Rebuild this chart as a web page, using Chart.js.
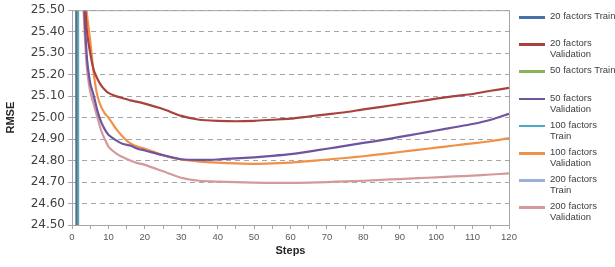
<!DOCTYPE html>
<html>
<head>
<meta charset="UTF-8">
<script src="https://cdn.jsdelivr.net/npm/chart.js"></script>
<style>
  body { margin: 0; background: #fff; font-family: 'Liberation Sans', Arial, sans-serif; }
  #wrap { position: relative; width: 615px; height: 267px; }
  #box { position: absolute; left: 0; top: 0; width: 520px; height: 267px; }
  #legend { position: absolute; left: 519px; top: 0; width: 96px; }
  .item { position: absolute; left: 0; height: 24px; }
  .item i { position: absolute; left: 0; width: 26px; height: 2.5px; }
  .item span { position: absolute; left: 31px; top: -6px; font-size: 9.5px; line-height: 11px; color: #404040; white-space: pre; }
</style>
</head>
<body>
<div id="wrap">
  <div id="box"><canvas id="chart"></canvas></div>
  <div id="legend"></div>
</div>
<script>
// x values (training steps)
const steps = [1,2,3,4,5,6,7,8,9,10,12,14,16,18,20,25,30,35,40,45,50,55,60,65,70,75,80,85,90,95,100,105,110,115,120];

const labels = ['20 factors Train', '20 factors\nValidation', '50 factors Train', '50 factors\nValidation',
  '100 factors\nTrain', '100 factors\nValidation', '200 factors\nTrain', '200 factors\nValidation'];
const colors = ['#4A6FA8', '#A8423F', '#8DB153', '#6E55A0', '#4AAAC5', '#F0914A', '#9DB0DC', '#D4999A'];

// train curves drop far below the visible range right after step 1
const train20  = [28.75,10.0,9.6,9.3,9.1,8.9,8.8,8.7,8.6,8.5,8.4,8.3,8.2,8.1,8.0,7.8,7.6,7.5,7.4,7.3,7.2,7.1,7.0,6.9,6.8,6.7,6.6,6.5,6.4,6.3,6.2,6.1,6.0,5.9,5.8];
const train50  = [35.0,10.0,9.5,9.1,8.8,8.6,8.4,8.2,8.1,8.0,7.8,7.6,7.5,7.4,7.3,7.0,6.8,6.6,6.4,6.2,6.0,5.9,5.7,5.6,5.4,5.3,5.1,5.0,4.8,4.7,4.5,4.4,4.2,4.1,4.0];
const train100 = [47.5,10.0,9.4,8.9,8.5,8.2,7.9,7.7,7.5,7.3,7.0,6.7,6.5,6.3,6.1,5.7,5.3,5.0,4.7,4.4,4.1,3.9,3.6,3.4,3.2,3.0,2.8,2.6,2.4,2.2,2.0,1.9,1.8,1.7,1.6];
const train200 = [60.0,10.0,9.3,8.7,8.2,7.8,7.4,7.1,6.8,6.5,6.0,5.6,5.2,4.9,4.6,3.9,3.3,2.8,2.3,1.9,1.5,1.3,1.1,1.0,0.9,0.8,0.7,0.6,0.55,0.5,0.45,0.4,0.35,0.3,0.25];

const val20  = [29.0,27.5,25.80,25.42,25.30,25.22,25.18,25.15,25.13,25.115,25.10,25.09,25.08,25.073,25.065,25.04,25.008,24.99,24.985,24.983,24.985,24.99,24.995,25.005,25.015,25.025,25.038,25.05,25.063,25.075,25.088,25.10,25.11,25.125,25.138];
const val50  = [28.5,27.0,25.70,25.30,25.16,25.10,25.03,24.98,24.945,24.92,24.895,24.877,24.87,24.855,24.847,24.825,24.806,24.803,24.805,24.81,24.815,24.822,24.83,24.842,24.855,24.868,24.882,24.895,24.91,24.925,24.94,24.955,24.97,24.99,25.018];
const val100 = [29.0,27.6,25.90,25.50,25.36,25.20,25.10,25.05,25.02,25.00,24.95,24.91,24.88,24.865,24.855,24.825,24.805,24.795,24.79,24.787,24.785,24.787,24.79,24.797,24.805,24.812,24.82,24.83,24.84,24.85,24.86,24.87,24.88,24.89,24.905];
const val200 = [28.3,26.8,25.60,25.25,25.12,25.06,25.00,24.94,24.90,24.865,24.835,24.815,24.80,24.788,24.78,24.75,24.72,24.706,24.702,24.70,24.697,24.696,24.696,24.697,24.70,24.703,24.706,24.71,24.714,24.718,24.722,24.726,24.73,24.735,24.74];

const series = [train20, val20, train50, val50, train100, val100, train200, val200];

const yMin = 24.5, yMax = 25.5, yStep = 0.1;
const xMin = 0, xMax = 120, xStep = 5;

const datasets = series.map((vals, i) => ({
  label: labels[i],
  data: vals.map((v, k) => ({ x: steps[k], y: v })),
  borderColor: colors[i],
  backgroundColor: colors[i],
  borderWidth: 2.2,
  pointRadius: 0,
  tension: i % 2 === 0 ? 0 : 0.2,
  fill: false
}));

// solid frame on top and right like the original plot area
const framePlugin = {
  id: 'frame',
  afterDraw(chart) {
    const { ctx, chartArea: a } = chart;
    ctx.save();
    ctx.strokeStyle = '#a6a6a6';
    ctx.lineWidth = 1;
    ctx.beginPath();
    ctx.moveTo(a.left, a.top + 0.5);
    ctx.lineTo(a.right + 0.5, a.top + 0.5);
    ctx.lineTo(a.right + 0.5, a.bottom);
    ctx.stroke();
    ctx.restore();
  }
};

new Chart(document.getElementById('chart'), {
  type: 'line',
  data: { datasets },
  plugins: [framePlugin],
  options: {
    responsive: true,
    maintainAspectRatio: false,
    animation: false,
    layout: { padding: { top: 5, right: 11, left: 0, bottom: 9 } },
    plugins: { legend: { display: false }, tooltip: { enabled: false } },
    scales: {
      x: {
        type: 'linear', min: xMin, max: xMax,
        ticks: {
          stepSize: xStep, maxRotation: 0, autoSkip: false, padding: 3,
          color: '#595959', font: { family: 'Liberation Sans', size: 9.5 },
          callback: v => (v % 10 === 0 ? v : '')
        },
        grid: { drawOnChartArea: false, drawTicks: true, tickLength: 4, color: '#a6a6a6' },
        border: { color: '#a6a6a6' },
        title: { display: true, text: 'Steps', color: '#262626', padding: { top: 0, bottom: 0 },
          font: { family: 'Liberation Sans', size: 11, weight: 'bold' } },
        afterFit: s => { s.height = 33; }
      },
      y: {
        min: yMin, max: yMax,
        ticks: {
          stepSize: yStep, padding: 3, color: '#404040',
          font: { family: 'DejaVu Sans', size: 12 },
          callback: v => v.toFixed(2)
        },
        grid: { color: '#a6a6a6', tickLength: 4, drawTicks: true },
        border: { color: '#a6a6a6', dash: [5, 4] },
        title: { display: true, text: 'RMSE', color: '#262626', padding: { top: 4, bottom: 2 },
          font: { family: 'Liberation Sans', size: 11, weight: 'bold' } },
        afterFit: s => { s.width = 72; }
      }
    }
  }
});

// HTML legend on the right
const legend = document.getElementById('legend');
labels.forEach((t, i) => {
  const d = document.createElement('div');
  d.className = 'item';
  d.style.top = (16 + i * 27.2) + 'px';
  d.innerHTML = '<i style="background:' + colors[i] + '"></i><span>' + t + '</span>';
  legend.appendChild(d);
});
</script>
</body>
</html>
